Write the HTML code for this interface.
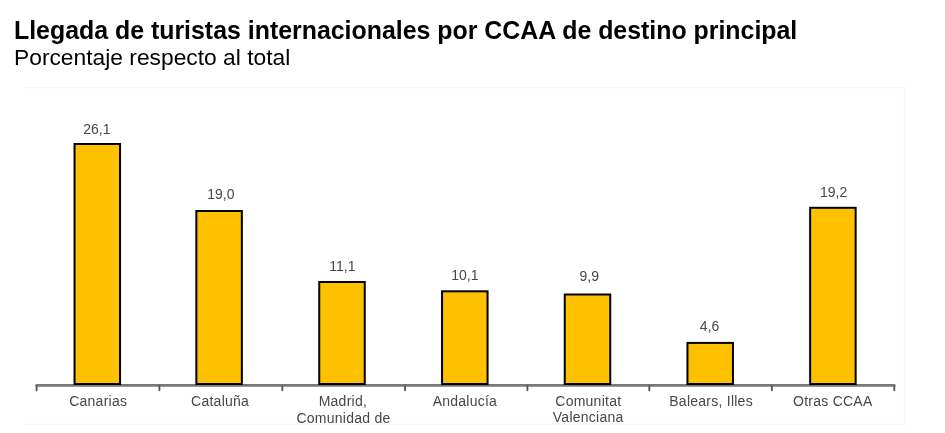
<!DOCTYPE html>
<html><head><meta charset="utf-8">
<style>
html,body{margin:0;padding:0;background:#fff;width:945px;height:433px;overflow:hidden}
body{font-family:"Liberation Sans",sans-serif;position:relative}
.t{position:absolute;white-space:nowrap;color:#000}
#title{left:14px;top:15.5px;font-size:24.9px;font-weight:bold;line-height:29px}
#sub{left:13.5px;top:44px;font-size:22.8px;line-height:26px}
svg{position:absolute;left:0;top:0;will-change:transform}
.t{will-change:transform}
</style></head><body>
<div class="t" id="title">Llegada de turistas internacionales por CCAA de destino principal</div>
<div class="t" id="sub">Porcentaje respecto al total</div>
<svg width="945" height="433" viewBox="0 0 945 433" font-family="Liberation Sans, sans-serif">
  <path d="M24 87.5H904.5V425M24 424.5H904" fill="none" stroke="#f6f6f6" stroke-width="1.5"/>
  <g fill="none" stroke-linecap="round" stroke-linejoin="round">
    <path d="M36.6 385.4H894.3" stroke="#787878" stroke-width="2.6"/>
    <path d="M36.6 386V390.2M894.3 386V390.2M159.4 386V390.2M282.3 386V390.2M405 386V390.2M527.4 386V390.2M649.3 386V390.2M771.9 386V390.2" stroke="#5a5a5a" stroke-width="1.9"/>
  </g>
  <g fill="#ffc000" stroke="#000" stroke-width="2">
    <rect x="74.55" y="144" width="45.5" height="240"/>
    <rect x="196.35" y="211" width="45.5" height="173"/>
    <rect x="319.25" y="282" width="45.5" height="102"/>
    <rect x="442.05" y="291.3" width="45.5" height="92.7"/>
    <rect x="564.75" y="294.5" width="45.5" height="89.5"/>
    <rect x="687.45" y="342.9" width="45.5" height="41.1"/>
    <rect x="810.15" y="207.8" width="45.5" height="176.2"/>
  </g>
  <g fill="#474747" font-size="14" text-anchor="middle">
    <text x="96.8" y="133.5">26,1</text>
    <text x="220.8" y="198.8">19,0</text>
    <text x="342.4" y="271">11,1</text>
    <text x="464.9" y="280.2">10,1</text>
    <text x="589.3" y="280.7">9,9</text>
    <text x="709.6" y="330.8">4,6</text>
    <text x="833.6" y="196.8">19,2</text>
  </g>
  <g fill="#474747" font-size="14" text-anchor="middle" letter-spacing="0.25">
    <text x="98.2" y="406.1">Canarias</text>
    <text x="220.1" y="406.1">Cataluña</text>
    <text x="342.9" y="406">Madrid,</text>
    <text x="343.5" y="422.6">Comunidad de</text>
    <text x="464.9" y="406">Andalucía</text>
    <text x="588.3" y="406.3">Comunitat</text>
    <text x="588.2" y="422.3">Valenciana</text>
    <text x="711.1" y="405.9">Balears, Illes</text>
    <text x="832.8" y="406">Otras CCAA</text>
  </g>
</svg>
</body></html>
